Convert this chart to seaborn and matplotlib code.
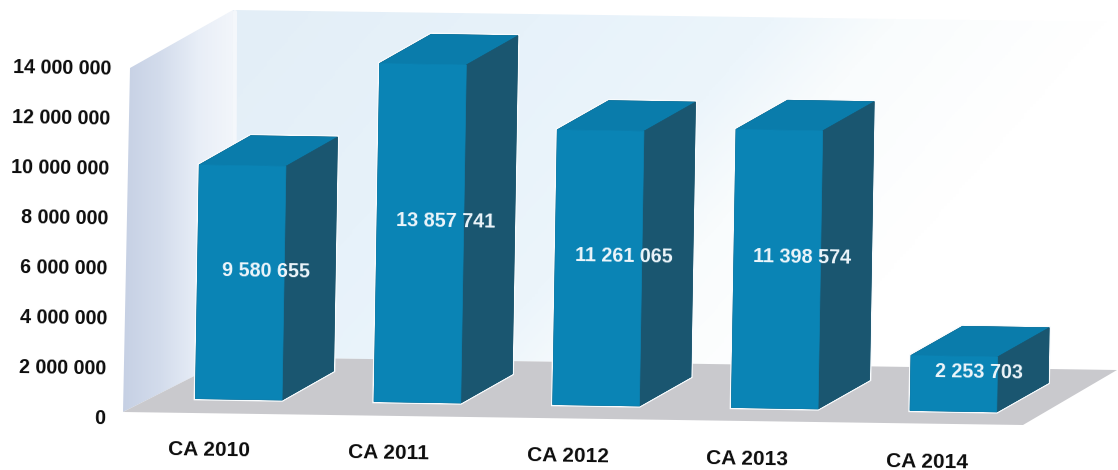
import numpy as np
import pandas as pd
import matplotlib
matplotlib.use("Agg")
import matplotlib.pyplot as plt
import matplotlib.patheffects as pe
from matplotlib.colors import LinearSegmentedColormap
from matplotlib.patches import Polygon
from matplotlib.transforms import Affine2D
import seaborn as sns

# Turnover per year
years = ["CA 2010", "CA 2011", "CA 2012", "CA 2013", "CA 2014"]
turnover = [9580655, 13857741, 11261065, 11398574, 2253703]
y_ticks = [0, 2000000, 4000000, 6000000, 8000000, 10000000, 12000000, 14000000]

W, H = 1118, 470
FRONT, SIDE, TOP = "#0a84b5", "#1a5670", "#0a7cab"
INK = "#0c0c0c"
TILT = -0.95

sns.set_theme(style="white")
plt.rcParams["font.family"] = ["Liberation Sans", "DejaVu Sans"]
plt.rcParams["font.weight"] = "bold"

fig = plt.figure(figsize=(W / 100, H / 100), dpi=100, facecolor="white")

# Backdrop of the 3D scene: side wall, back wall and floor, in pixel units
bg = fig.add_axes([0, 0, 1, 1], zorder=0)
bg.set_xlim(0, W)
bg.set_ylim(H, 0)
bg.axis("off")

side_wall = Polygon([(130, 68), (233, 10), (232, 357), (123, 412)], closed=True,
                    fc="none", ec="none", transform=bg.transData)
bg.add_patch(side_wall)
side_cmap = LinearSegmentedColormap.from_list(
    "side", ["#c6d0e4", "#d3dcec", "#e8eef7", "#f3f6fb"])
img = bg.imshow(np.linspace(0, 1, 256)[None, :], cmap=side_cmap, aspect="auto",
                extent=(123, 236, 412, 10), zorder=1)
img.set_clip_path(side_wall)

back_wall = Polygon([(233, 10), (1117, 22), (1117, 370), (232, 357)], closed=True,
                    fc="none", ec="none", transform=bg.transData)
bg.add_patch(back_wall)
back_cmap = LinearSegmentedColormap.from_list(
    "back", [(0, "#e3eef7"), (0.35, "#e7f2fa"), (0.62, "#ecf5fb"),
             (0.76, "#f9fcfd"), (1, "#ffffff")])
gx, gy = np.meshgrid(np.linspace(0, 1, 300), np.linspace(0, 1, 120))
img = bg.imshow(np.clip(gx * 1.0 + gy * 0.35, 0, 1), cmap=back_cmap, aspect="auto",
                extent=(232, 1117, 370, 10), zorder=1)
img.set_clip_path(back_wall)
bg.plot([235, 234], [12, 357], color="#f4f7fb", lw=3, zorder=2)

bg.add_patch(Polygon([(123, 412), (1023, 425), (1117, 370), (232, 357)], closed=True,
                     fc="#c9c9cd", ec="none", zorder=3))

# Chart axes: ticks sit on the front edge of the floor
L, R, BOTTOM, TOP_PX = 125, 1090, 424.6, 21
ax = fig.add_axes([L / W, (H - BOTTOM) / H, (R - L) / W, (BOTTOM - TOP_PX) / H], zorder=1)
ax.patch.set_alpha(0)

data = pd.DataFrame({"year": years, "turnover": turnover})
sns.barplot(data=data, x="year", y="turnover", color=FRONT, saturation=1,
            width=0.485, ax=ax, zorder=3, edgecolor=FRONT, linewidth=0.5)

ax.set_xlim((L - 212.5) / 179.5, (R - 212.5) / 179.5)
ax.set_ylim(0, (BOTTOM - TOP_PX) / 25 * 1e6)
ax.set_xlabel("")
ax.set_ylabel("")
sns.despine(ax=ax, left=True, bottom=True)
ax.set_yticks(y_ticks, [f"{t:,}".replace(",", " ") for t in y_ticks])
ax.tick_params(axis="y", length=0, pad=12, labelsize=14.2, labelcolor=INK)
ax.tick_params(axis="x", length=0, pad=15.5, labelsize=15, labelcolor=INK)

# The whole scene leans slightly clockwise
tilt = Affine2D().rotate_deg_around(W / 2, H / 2, TILT)

# Bars stand further back than the ticks, so they shift along the depth axis
# and shrink a little
base = H - BOTTOM
first_bar = L + (0 - ax.get_xlim()[0]) / (ax.get_xlim()[1] - ax.get_xlim()[0]) * (R - L)
depth = (Affine2D().translate(-first_bar, -base).scale(0.9955, 0.976)
         .translate(first_bar + 29, base + 20))
scene = ax.transData + depth
DX, DY = 51, 30

halo = [pe.withStroke(linewidth=2.5, foreground="#f8fbfd")]
for patch, value in zip(ax.patches, turnover):
    x0, w = patch.get_x(), patch.get_width()
    (xl, yb), (xr, yt) = scene.transform([(x0, 0), (x0 + w, value)])
    top = [(xl, yt), (xr, yt), (xr + DX, yt + DY), (xl + DX, yt + DY)]
    side = [(xr, yb), (xr, yt), (xr + DX, yt + DY), (xr + DX, yb + DY)]
    # Pale rim round the top and side of each block
    outline = [(xl, yb), (xl, yt), (xl + DX, yt + DY), (xr + DX, yt + DY),
               (xr + DX, yb + DY), (xr, yb)]
    ax.add_patch(Polygon(outline, closed=True, fc=SIDE, ec=SIDE, lw=0.5, zorder=1.9,
                         transform=tilt, clip_on=False, path_effects=halo))
    ax.add_patch(Polygon(top, closed=True, fc=TOP, ec=TOP, lw=0.5, zorder=2,
                         transform=tilt, clip_on=False))
    ax.add_patch(Polygon(side, closed=True, fc=SIDE, ec=SIDE, lw=0.5, zorder=2,
                         transform=tilt, clip_on=False))
    patch.set_transform(ax.transData + depth + tilt)
    patch.set_clip_on(False)
    ax.text(x0 + w / 2, value / 2, f"{value:,}".replace(",", " "),
            transform=scene + Affine2D().translate(25, 12) + tilt,
            ha="center", va="center", color="#eef6fb", fontsize=14.2,
            rotation=TILT, rotation_mode="anchor", zorder=5, clip_on=False)

for label in ax.get_xticklabels() + ax.get_yticklabels():
    label.set_transform(label.get_transform() + tilt)
    label.set_rotation(TILT)
    label.set_rotation_mode("anchor")

fig.savefig("out.png", dpi=100, facecolor="white")
